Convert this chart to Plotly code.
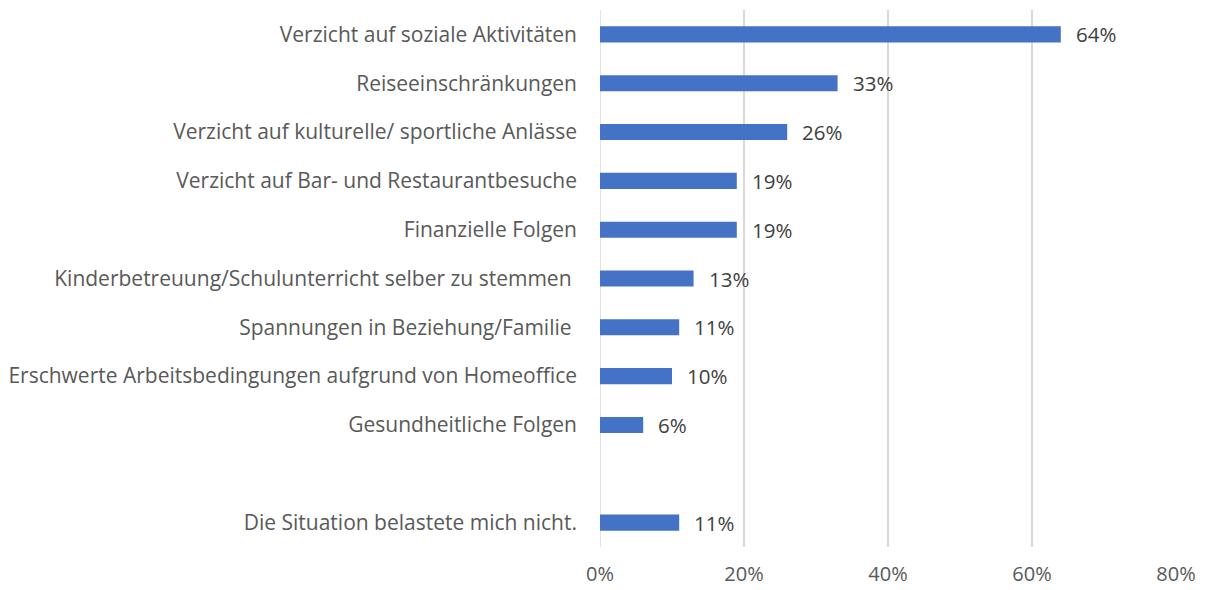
import plotly.graph_objects as go

categories = [
    "Verzicht auf soziale Aktivitäten",
    "Reiseeinschränkungen",
    "Verzicht auf kulturelle/ sportliche Anlässe",
    "Verzicht auf Bar- und Restaurantbesuche",
    "Finanzielle Folgen",
    "Kinderbetreuung/Schulunterricht selber zu stemmen ",
    "Spannungen in Beziehung/Familie ",
    "Erschwerte Arbeitsbedingungen aufgrund von Homeoffice",
    "Gesundheitliche Folgen",
    "Die Situation belastete mich nicht.",
]
values = [64, 33, 26, 19, 19, 13, 11, 10, 6, 11]
positions = [0, 1, 2, 3, 4, 5, 6, 7, 8, 10]
x_ticks = [0, 20, 40, 60, 80]
x_ticktext = ["0%", "20%", "40%", "60%", "80%"]

FONT = "Open Sans"
GRAY = "#595959"
SIZE = 21

fig = go.Figure()
fig.add_trace(go.Bar(
    x=values, y=positions, orientation="h",
    marker=dict(color="#4472C4", line=dict(width=0)),
    width=0.33, hoverinfo="skip",
))
for v, p in zip(values, positions):
    fig.add_annotation(x=v, y=p, text=f"{v}%", showarrow=False,
                       xanchor="left", xshift=13,
                       font=dict(family=FONT, size=SIZE - 0.5, color="#404040"))

fig.update_layout(
    width=1206, height=590,
    margin=dict(l=600, r=30, t=10, b=43, autoexpand=False),
    plot_bgcolor="white", paper_bgcolor="white",
    showlegend=False,
    font=dict(family=FONT, size=SIZE, color=GRAY),
    xaxis=dict(range=[0, 80], tickvals=x_ticks, ticktext=x_ticktext,
               tickfont=dict(size=SIZE - 1),
               showgrid=True, gridcolor="#D9D9D9", gridwidth=1.5,
               zeroline=False, showline=False, ticks="",
               ticklabelstandoff=13, fixedrange=True, automargin=False),
    yaxis=dict(range=[10.5, -0.5], tickvals=positions, ticktext=categories,
               showgrid=False, zeroline=False, showline=False, ticks="",
               ticklabelstandoff=22, fixedrange=True, automargin=False),
)
fig.add_shape(type="line", xref="x", yref="paper", x0=0, x1=0, y0=0, y1=1,
              line=dict(color="#D9D9D9", width=1.5), layer="below")

fig.write_html("out.html", config={"displayModeBar": False},
               post_script="document.body.style.margin='0';")
